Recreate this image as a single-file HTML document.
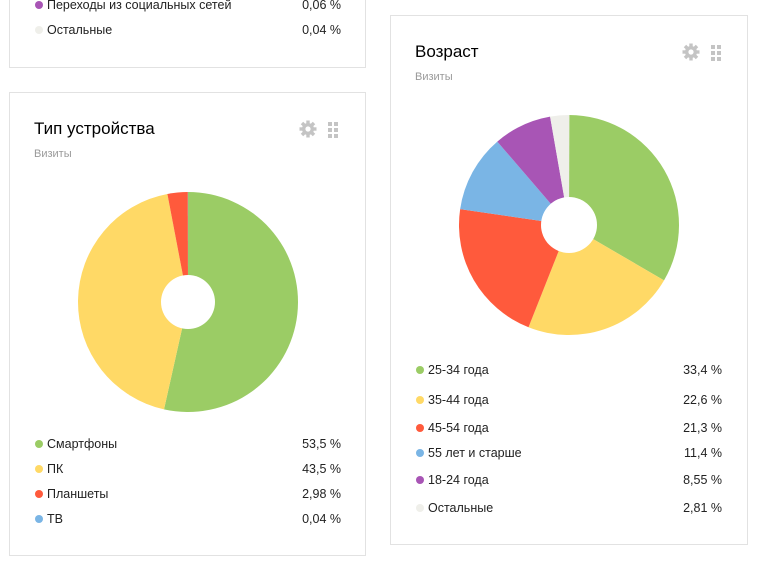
<!DOCTYPE html>
<html><head><meta charset="utf-8"><style>
body{margin:0;width:772px;height:577px;background:#fff;font-family:"Liberation Sans","DejaVu Sans",sans-serif;position:relative;overflow:hidden}
.card{position:absolute;border:1px solid #e2e2e2;background:#fff;box-sizing:border-box}
.t{position:absolute;font-size:17px;color:#000}
.s{position:absolute;font-size:11px;color:#999}
.row{position:absolute;font-size:12.5px;color:#222;white-space:nowrap}
.dot{position:absolute;width:8px;height:8px;border-radius:50%}
.v{position:absolute;font-size:12.5px;color:#222;text-align:right;width:80px}
.ic{position:absolute}
</style></head><body>
<div class="card" style="left:9px;top:-5px;width:357px;height:73px"></div>
<div class="card" style="left:9px;top:92px;width:357px;height:464px"></div>
<div class="card" style="left:390px;top:15px;width:358px;height:530px"></div>
<div class="t" style="left:34px;top:119px">Тип устройства</div>
<div class="s" style="left:34px;top:148px">Визиты</div>
<div class="t" style="left:415px;top:42px">Возраст</div>
<div class="s" style="left:415px;top:71px">Визиты</div>
<svg id="g" width="772" height="577" style="position:absolute;left:0;top:0"></svg>
<div id="L"></div>
<script>
var s=document.getElementById('g'),ns='http://www.w3.org/2000/svg';
function pie(cx,cy,r,h,data){var a=0;data.forEach(function(d){var a2=a+d[0]/100*2*Math.PI;
var p=document.createElementNS(ns,'path');var x1=cx+r*Math.sin(a),y1=cy-r*Math.cos(a),x2=cx+r*Math.sin(a2),y2=cy-r*Math.cos(a2);
p.setAttribute('d','M'+cx+' '+cy+'L'+x1+' '+y1+'A'+r+' '+r+' 0 '+((a2-a)>Math.PI?1:0)+' 1 '+x2+' '+y2+'Z');p.setAttribute('fill',d[1]);s.appendChild(p);a=a2;});
var c=document.createElementNS(ns,'circle');c.setAttribute('cx',cx);c.setAttribute('cy',cy);c.setAttribute('r',h);c.setAttribute('fill','#fff');s.appendChild(c);}
var G='#9bcc65',Y='#ffd966',R='#ff5a3c',B='#7ab5e5',P='#a855b5',E='#efefea';
pie(188,302,110,27,[[53.5,G],[43.5,Y],[2.98,R],[0.04,B]]);
pie(569,225,110,28,[[33.4,G],[22.6,Y],[21.3,R],[11.4,B],[8.55,P],[2.81,E]]);
function gear(x,y){var g='<svg class="ic" style="left:'+x+'px;top:'+y+'px" width="18" height="18" viewBox="0 0 18 18"><g fill="#c4c4c4">';for(var i=0;i<4;i++)g+='<rect x="7.3" y="0.5" width="3.4" height="17" transform="rotate('+(i*45)+' 9 9)"/>';g+='<circle cx="9" cy="9" r="6"/></g><circle cx="9" cy="9" r="2.6" fill="#fff"/></svg>';
for(var r=0;r<3;r++)for(var c=0;c<2;c++)g+='<div class="ic" style="left:'+(x+29+c*6)+'px;top:'+(y+2+r*6)+'px;width:4px;height:4px;background:#c4c4c4"></div>';return g;}
var h='';
h+=gear(299,120)+gear(682,43);
function rows(dx,vx,list){list.forEach(function(r){h+='<div class="dot" style="left:'+dx+'px;top:'+(r[0]-4)+'px;background:'+r[3]+'"></div><div class="row" style="left:'+(dx+12)+'px;top:'+(r[0]-7)+'px">'+r[1]+'</div><div class="v" style="left:'+(vx-80)+'px;top:'+(r[0]-7)+'px">'+r[2]+'</div>';});}
rows(35,341,[[5,'Переходы из социальных сетей','0,06 %',P],[30,'Остальные','0,04 %',E],[444,'Смартфоны','53,5 %',G],[469,'ПК','43,5 %',Y],[494,'Планшеты','2,98 %',R],[519,'ТВ','0,04 %',B]]);
rows(416,722,[[370,'25-34 года','33,4 %',G],[400,'35-44 года','22,6 %',Y],[428,'45-54 года','21,3 %',R],[453,'55 лет и старше','11,4 %',B],[480,'18-24 года','8,55 %',P],[508,'Остальные','2,81 %',E]]);
document.getElementById('L').innerHTML=h;
</script>
</body></html>
